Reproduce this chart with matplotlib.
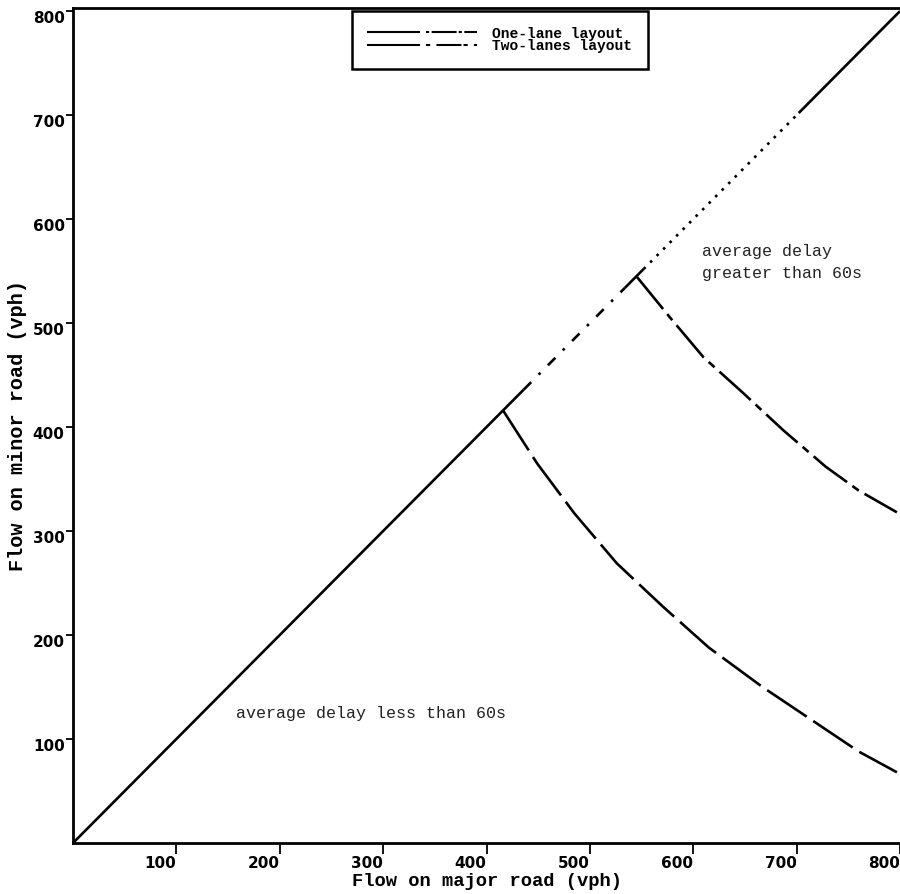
import matplotlib
matplotlib.use('Agg')
import matplotlib.pyplot as plt
from matplotlib.lines import Line2D
from matplotlib.legend_handler import HandlerTuple

# ---- data ----
x_ticks = [100, 200, 300, 400, 500, 600, 700, 800]
y_ticks = [100, 200, 300, 400, 500, 600, 700, 800]

# diagonal (capacity boundary) broken into segments as rendered in the scan
diag_breaks = [0, 436, 534, 552, 702, 800]

# one-lane layout: delay = 60 s contour
one_lane_x = [416, 449, 485, 526, 571, 615, 667, 715, 760, 797]
one_lane_y = [416, 365, 317, 269, 227, 188, 150, 118, 88, 68]

# two-lanes layout: delay = 60 s contour
two_lane_x = [545, 577, 610, 648, 687, 728, 760, 797]
two_lane_y = [545, 506, 467, 433, 397, 362, 339, 318]

label_one = "One-lane layout"
label_two = "Two-lanes layout"
text_less = "average delay less than 60s"
text_greater = "average delay\ngreater than 60s"

# ---- figure ----
fig = plt.figure(figsize=(9, 8.94), dpi=100)
ax = fig.add_axes([73/900, 51/894, 827/900, (843-8)/894])

lw = 1.9
diag_styles = ['-', (0, (4, 4, 1, 4)), '-', (0, (1, 2.5)), '-']
for i, ls in enumerate(diag_styles):
    seg = [diag_breaks[i], diag_breaks[i+1]]
    ax.plot(seg, seg, color='black', lw=lw, ls=ls, solid_capstyle='butt')

one_dash = (0, (18, 3))
two_dash = (0, (16, 2.5, 3, 2.5))
ax.plot(one_lane_x, one_lane_y, color='black', lw=lw, ls=one_dash)
ax.plot(two_lane_x, two_lane_y, color='black', lw=lw, ls=two_dash)

ax.text(158, 125, text_less, family='Liberation Mono', fontsize=12,
        ha='left', va='center', color='#222222')
ax.text(608, 558, text_greater, family='Liberation Mono', fontsize=12,
        ha='left', va='center', linespacing=1.55, color='#222222')

ax.set_xlim(0, 797)
ax.set_ylim(0, 803)
ax.set_xticks(x_ticks)
ax.set_yticks(y_ticks)
ax.set_xticklabels([str(v) for v in x_ticks], fontweight='bold', fontsize=11,
                   ha='right', family='DejaVu Sans')
ax.set_yticklabels([str(v) for v in y_ticks], fontweight='bold', fontsize=11,
                   va='top', family='DejaVu Sans')
ax.tick_params(axis='x', direction='out', length=8, width=1.3, pad=1)
ax.tick_params(axis='y', direction='out', length=5, width=1.3, pad=1)

for s in ['left', 'bottom', 'top']:
    ax.spines[s].set_linewidth(2.0)
ax.spines['right'].set_visible(False)

ax.set_xlabel("Flow on major road (vph)", family='Liberation Mono',
              fontweight='bold', fontsize=13.5, labelpad=2)
ax.set_ylabel("Flow on minor road (vph)", family='Liberation Mono',
              fontweight='bold', fontsize=14.5, labelpad=4)

h1 = (Line2D([], [], color='black', lw=1.5),
      Line2D([], [], color='black', lw=1.5, ls=(0, (1.5, 1.2, 12, 1))))
h2 = (Line2D([], [], color='black', lw=1.5),
      Line2D([], [], color='black', lw=1.5, ls=(0, (2, 3, 12, 1))))
leg = ax.legend([h1, h2], [label_one, label_two],
                handler_map={tuple: HandlerTuple(ndivide=None, pad=0.5)},
                loc='upper center', bbox_to_anchor=(0.516, 0.997),
                handlelength=7.5, handletextpad=1.0, labelspacing=-0.1,
                borderpad=1.1, borderaxespad=0, fancybox=False, framealpha=1,
                prop={'family': 'Liberation Mono', 'weight': 'bold', 'size': 10.5})
leg.get_frame().set_edgecolor('black')
leg.get_frame().set_linewidth(1.8)

fig.savefig('out.png', dpi=100)
